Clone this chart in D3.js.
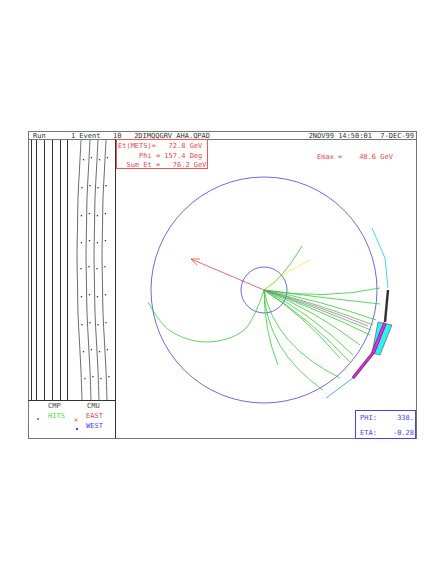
<!DOCTYPE html><html><head><meta charset="utf-8"><script src="https://cdn.jsdelivr.net/npm/d3@7"></script>
<style>body{margin:0;background:#fff}text{font-family:"DejaVu Sans Mono",monospace;font-size:7px}</style></head><body>
<script>
// detector coordinates (pixels relative to vertex, y down)
const outerR=113, innerR=23;
// tracks: [endX,endY,ctrlX,ctrlY,color]
const tracks=[[38,-44,18,-10,"#3c3"],[47,-30,20,-18,"#ee4"],[116,-2,60,10,"#3c3"],[116,14,60,8,"#3c3"],
[112,30,55,10,"#3c3"],[109,35,55,14,"#3c3"],[107,40,55,18,"#3c3"],[106,45,55,20,"#3c3"],[96,55,50,20,"#3c3"],
[89,65,45,22,"#3c3"],[76,68,38,24,"#3c3"],[86,72,45,28,"#3c3"],[14,75,0,40,"#3c3"],[76,88,10,55,"#3c3"],[59,100,2,60,"#3c3"],[104,36,55,16,"#e4e"]];
const bigArc=[[0,0],[-20,40],[-58,52],[-95,40],[-116,12]];
const met=[-73,-31];
const cyanUpper=[[108,-62],[121,-32],[124,-2]];
const darkSeg=[[124,0],[121,32]];
const magSeg=[[121,33],[109,63]];
const cyanBox=[[114,32],[128,35],[116,65],[108,63]];
const magLow=[[109,63],[89,88]];
const blueLow=[[89,88],[62,108]];
const stripX=[31,36,44,52,60,67];
const wavyX=[81,90,98,106,114];
const wiggle=[0,-1.5,-3,-3.5,-4,-3.5,-3,-1.5,0,1];
const dotRows=[158,186,214,241,267,295,323,350,377];
const header1="Run      1 Event   10   2DIMQQGRV_AHA.QPAD", header2="2NOV99 14:50:01  7-DEC-99";
const metText=["Et(METS)=   72.8 GeV","     Phi = 157.4 Deg","  Sum Et =   76.2 GeV"];
const svg=d3.select("body").append("svg").attr("width",436).attr("height",564);
const x=d3.scaleLinear().domain([0,1]).range([264,265]), y=d3.scaleLinear().domain([0,1]).range([290,291]);
const g="#777";
svg.append("rect").attr("x",28.5).attr("y",131.5).attr("width",388).attr("height",307).attr("fill","none").attr("stroke",g);
svg.append("line").attr("x1",28).attr("x2",416).attr("y1",139.5).attr("y2",139.5).attr("stroke",g);
svg.append("line").attr("x1",115.5).attr("x2",115.5).attr("y1",139).attr("y2",438).attr("stroke","#333");
svg.append("line").attr("x1",28).attr("x2",115).attr("y1",400.5).attr("y2",400.5).attr("stroke","#333");
svg.append("text").attr("x",33).attr("y",138).attr("fill","#333").attr("xml:space","preserve").text(header1);
svg.append("text").attr("x",414).attr("y",138).attr("text-anchor","end").attr("fill","#333").attr("xml:space","preserve").text(header2);
stripX.forEach(v=>svg.append("line").attr("x1",v+.5).attr("x2",v+.5).attr("y1",140).attr("y2",400).attr("stroke","#333"));
const ys=d3.range(wiggle.length).map(i=>140+i*260/(wiggle.length-1));
wavyX.slice(0,4).forEach(v=>svg.append("path").attr("fill","none").attr("stroke","#444").attr("stroke-width",.8)
 .attr("d",d3.line().curve(d3.curveCatmullRom)(ys.map((yy,i)=>[v+wiggle[i],yy]))));
dotRows.forEach((r,ri)=>{const wi=Math.round((r-140)/260*(wiggle.length-1));[85,93,101,109].forEach((c,k)=>
 svg.append("rect").attr("x",c+wiggle[wi]-0.7+(k%2?0:0)).attr("y",r+(k%2?-1:1)).attr("width",1.3).attr("height",1.3).attr("fill","#333"));});
svg.append("text").attr("x",48).attr("y",408).attr("fill","#444").text("CMP");
svg.append("text").attr("x",87).attr("y",408).attr("fill","#444").text("CMU");
svg.append("rect").attr("x",37).attr("y",418).attr("width",2).attr("height",2).attr("fill","#3c3");
svg.append("text").attr("x",48).attr("y",418).attr("fill","#4d4").text("HITS");
svg.append("text").attr("x",74).attr("y",422).attr("fill","#e44").text("×");
svg.append("text").attr("x",86).attr("y",418).attr("fill","#e44").text("EAST");
svg.append("rect").attr("x",76).attr("y",428).attr("width",2).attr("height",2).attr("fill","#44e");
svg.append("text").attr("x",86).attr("y",428).attr("fill","#44e").text("WEST");
svg.append("rect").attr("x",116.5).attr("y",139.5).attr("width",91).attr("height",29).attr("fill","none").attr("stroke","#e55");
metText.forEach((t,i)=>svg.append("text").attr("x",118).attr("y",148+i*9.5).attr("fill","#e44").attr("xml:space","preserve").text(t));
svg.append("text").attr("x",317).attr("y",159).attr("fill","#e44").attr("xml:space","preserve").text("Emax =    48.6 GeV");
svg.append("rect").attr("x",355.5).attr("y",410.5).attr("width",60).attr("height",28).attr("fill","none").attr("stroke","#44e");
svg.append("text").attr("x",360).attr("y",420).attr("fill","#44e").text("PHI:");
svg.append("text").attr("x",414).attr("y",420).attr("text-anchor","end").attr("fill","#44e").text("338.");
svg.append("text").attr("x",360).attr("y",435).attr("fill","#44e").text("ETA:");
svg.append("text").attr("x",414).attr("y",435).attr("text-anchor","end").attr("fill","#44e").text("-0.28");
svg.append("circle").attr("cx",x(0)).attr("cy",y(0)).attr("r",outerR).attr("fill","none").attr("stroke","#44d").attr("stroke-width",.8);
svg.append("circle").attr("cx",x(0)).attr("cy",y(0)).attr("r",innerR).attr("fill","none").attr("stroke","#44d").attr("stroke-width",.8);
const P=p=>[x(p[0]),y(p[1])];
tracks.forEach(t=>svg.append("path").attr("fill","none").attr("stroke",t[4]).attr("stroke-width",.8)
 .attr("d",`M${P([0,0])}Q${P([t[2],t[3]])} ${P([t[0],t[1]])}`));
svg.append("path").attr("fill","none").attr("stroke","#3c3").attr("stroke-width",.8).attr("d",d3.line().curve(d3.curveCatmullRom)(bigArc.map(P)));
svg.append("line").attr("x1",x(0)).attr("y1",y(0)).attr("x2",x(met[0])).attr("y2",y(met[1])).attr("stroke","#e44").attr("stroke-width",.8);
const ang=Math.atan2(met[1],met[0]);
[0.4,-0.4].forEach(d=>svg.append("line").attr("x1",x(met[0])).attr("y1",y(met[1]))
 .attr("x2",x(met[0]-9*Math.cos(ang+d))).attr("y2",y(met[1]-9*Math.sin(ang+d))).attr("stroke","#e44").attr("stroke-width",.8));
const L=d3.line();
svg.append("path").attr("fill","none").attr("stroke","#4dd").attr("d",L(cyanUpper.map(P)));
svg.append("path").attr("fill","#3ee").attr("stroke","#333").attr("stroke-width",.5).attr("d",L(cyanBox.map(P))+"Z");
svg.append("path").attr("stroke","#333").attr("stroke-width",2.5).attr("d",L(darkSeg.map(P)));
svg.append("path").attr("stroke","#333").attr("stroke-width",3.5).attr("d",L(magSeg.map(P)));
svg.append("path").attr("stroke","#e2e").attr("stroke-width",2.5).attr("d",L(magSeg.map(P)));
svg.append("path").attr("stroke","#333").attr("stroke-width",3).attr("d",L(magLow.map(P)));
svg.append("path").attr("stroke","#e2e").attr("stroke-width",2).attr("d",L(magLow.map(P)));
svg.append("path").attr("stroke","#5ae").attr("d",L(blueLow.map(P)));
</script></body></html>
